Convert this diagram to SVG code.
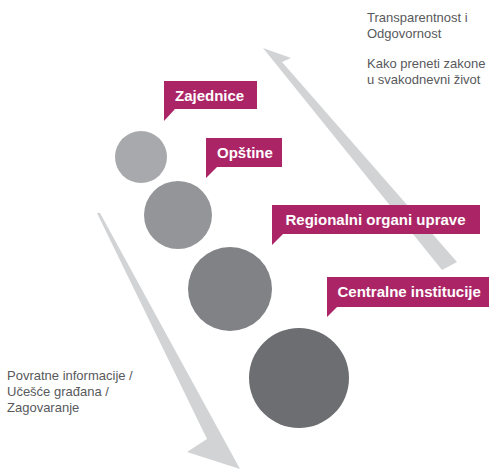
<svg xmlns="http://www.w3.org/2000/svg" width="489" height="470" viewBox="0 0 489 470">
<style>
.lbl{fill:#ab2566}
.lt{font-family:"Liberation Sans",Arial,sans-serif;font-weight:bold;font-size:15px;fill:#ffffff}
.gt{font-family:"Liberation Sans",Arial,sans-serif;font-size:13px;fill:#58595b}
.arr{fill:#d1d3d4}
</style>
<rect width="489" height="470" fill="#ffffff"/>
<g id="connectors">
<polygon class="arr" points="263,48 291,58 282,62 457,262 442,270"/>
<polygon class="arr" points="97,213 100,213 240,469 187,452 207,439"/>
</g>
<g id="circle1"><circle cx="141" cy="157" r="26" fill="#a7a9ac"/></g>
<g id="circle2"><circle cx="178" cy="215" r="34" fill="#939598"/></g>
<g id="circle3"><circle cx="230" cy="289" r="42" fill="#808285"/></g>
<g id="circle4"><circle cx="299" cy="378" r="50" fill="#6d6e71"/></g>
<g id="zajednice">
<path class="lbl" d="M164,81H257V109H175L164,121Z"/>
<text class="lt" x="175" y="100.5">Zajednice</text>
</g>
<g id="opstine">
<path class="lbl" d="M206,138H282V167H217L206,178Z"/>
<text class="lt" x="217" y="157.5">Opštine</text>
</g>
<g id="regionalni">
<path class="lbl" d="M272,205H480V234H283L272,245Z"/>
<text class="lt" x="285.5" y="224.5">Regionalni organi uprave</text>
</g>
<g id="centralne">
<path class="lbl" d="M327,277H489V307H337L327,317Z"/>
<text class="lt" x="337.5" y="297">Centralne institucije</text>
</g>
<g id="texts">
<text class="gt" x="367" y="22">Transparentnost i</text>
<text class="gt" x="367" y="38">Odgovornost</text>
<text class="gt" x="367" y="68">Kako preneti zakone</text>
<text class="gt" x="367" y="84">u svakodnevni život</text>
<text class="gt" x="7" y="380">Povratne informacije /</text>
<text class="gt" x="7" y="396">Učešće građana /</text>
<text class="gt" x="7" y="412">Zagovaranje</text>
</g>
</svg>
